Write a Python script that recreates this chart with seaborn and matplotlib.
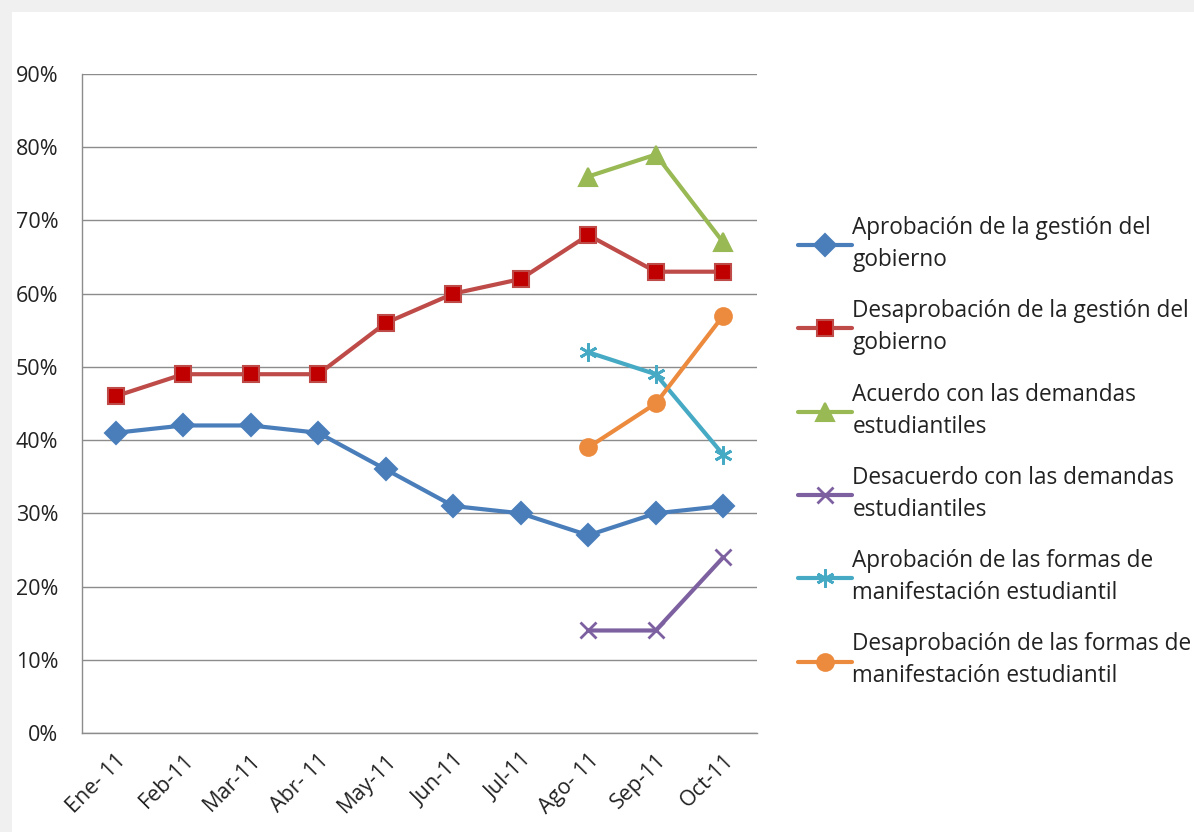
import numpy as np
import pandas as pd
import matplotlib.pyplot as plt
import matplotlib.ticker as mticker
from matplotlib.patches import Rectangle
import seaborn as sns

months = ['Ene- 11', 'Feb-11', 'Mar-11', 'Abr- 11', 'May-11', 'Jun-11',
          'Jul-11', 'Ago- 11', 'Sep-11', 'Oct-11']
nan = np.nan

aprob_gob = [41, 42, 42, 41, 36, 31, 30, 27, 30, 31]
desaprob_gob = [46, 49, 49, 49, 56, 60, 62, 68, 63, 63]
acuerdo = [nan, nan, nan, nan, nan, nan, nan, 76, 79, 67]
desacuerdo = [nan, nan, nan, nan, nan, nan, nan, 14, 14, 24]
aprob_formas = [nan, nan, nan, nan, nan, nan, nan, 52, 49, 38]
desaprob_formas = [nan, nan, nan, nan, nan, nan, nan, 39, 45, 57]

labels = ['Aprobación de la gestión del\ngobierno',
          'Desaprobación de la gestión del\ngobierno',
          'Acuerdo con las demandas\nestudiantiles',
          'Desacuerdo con las demandas\nestudiantiles',
          'Aprobación de las formas de\nmanifestación estudiantil',
          'Desaprobación de las formas de\nmanifestación estudiantil']

sns.set_style('white')
plt.rcParams['font.family'] = ['Open Sans', 'DejaVu Sans']

fig = plt.figure(figsize=(11.94, 8.32), dpi=100, facecolor='#f0f0f0')
fig.patches.append(Rectangle((12 / 1194, 0), 1, 1 - 12 / 832, transform=fig.transFigure,
                             facecolor='white', edgecolor='none', zorder=-5))
ax = fig.add_axes([82 / 1194, 99 / 832, 675 / 1194, 659 / 832])
ax.set_facecolor('white')

x = np.arange(len(months))
styles = [
    (aprob_gob, '#4a7ebb', '#4a7ebb', 'D', 11),
    (desaprob_gob, '#be4b48', '#c00000', 's', 12),
    (acuerdo, '#98b954', '#98b954', '^', 13),
    (desacuerdo, '#7d60a0', '#7d60a0', 'x', 11),
    (aprob_formas, '#46aac5', '#46aac5', (6, 2, 0), 13),
    (desaprob_formas, '#ec8a3d', '#ec8a3d', 'o', 12),
]

for (vals, lc, mc, mk, ms), lab in zip(styles, labels):
    y = np.array(vals, dtype=float) / 100
    sns.lineplot(x=x, y=y, ax=ax, color=lc, linewidth=3, marker=mk,
                 markersize=ms, markerfacecolor=mc, markeredgecolor=lc,
                 markeredgewidth=1.5 if mk not in ('x', (6, 2, 0)) else 2,
                 label=lab)

ax.set_xlim(-0.5, 9.5)
ax.set_ylim(0, 0.9)
ax.set_yticks(np.arange(0, 0.91, 0.1))
ax.yaxis.set_major_formatter(mticker.PercentFormatter(1.0, decimals=0))
ax.set_xticks(x)
ax.set_xticklabels(months, rotation=45, ha='right', rotation_mode='anchor')
ax.tick_params(axis='both', labelsize=15.5, colors='#222222', length=0)
ax.tick_params(axis='y', pad=17)
ax.tick_params(axis='x', pad=12)
ax.grid(axis='y', color='#8c8c8c', linewidth=1)
ax.grid(axis='x', visible=False)
for s in ['top', 'right']:
    ax.spines[s].set_visible(False)
for s in ['left', 'bottom']:
    ax.spines[s].set_color('#8c8c8c')
    ax.spines[s].set_linewidth(1)
ax.set_xlabel('')
ax.set_ylabel('')

h, l = ax.get_legend_handles_labels()
leg = ax.legend(h, l, loc='upper left', bbox_to_anchor=(789 / 1194, 1 - 207 / 832),
                bbox_transform=fig.transFigure, frameon=False, fontsize=16.3,
                handlelength=2.4, handletextpad=0.0, labelspacing=1.2,
                borderaxespad=0)
for t in leg.get_texts():
    t.set_linespacing(1.45)
    t.set_color('#222222')

fig.savefig('out.png', dpi=100, facecolor=fig.get_facecolor())
